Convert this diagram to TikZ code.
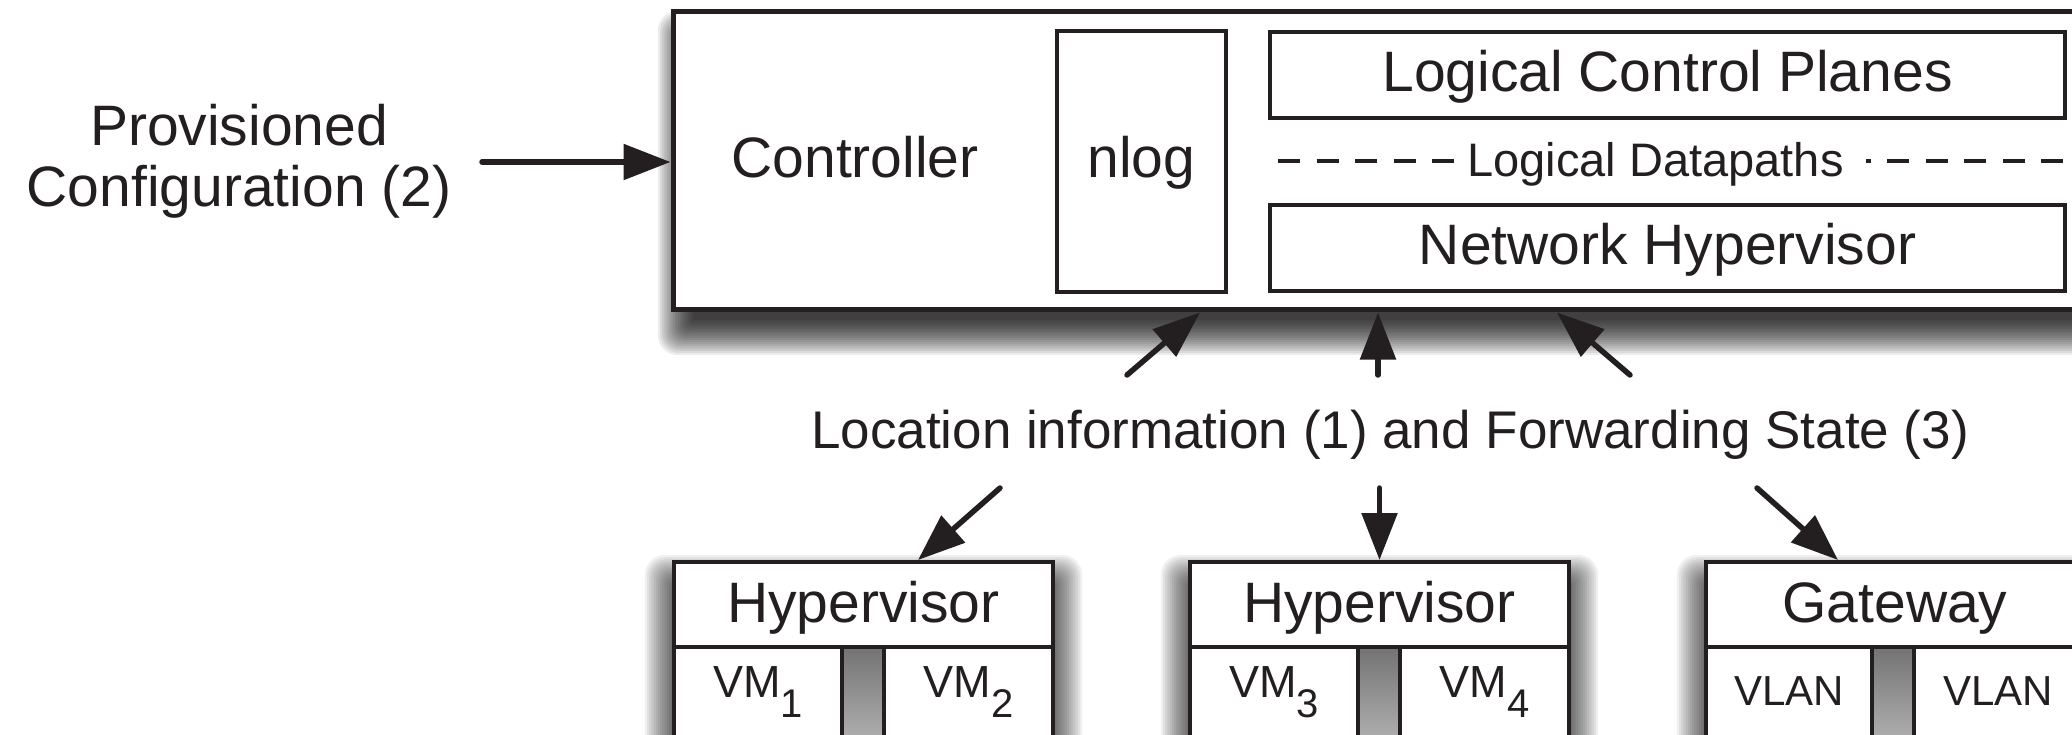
\documentclass[tikz,border=0pt]{standalone}
\usepackage{fontspec}
\setmainfont{Liberation Sans}
\usetikzlibrary{arrows.meta}
\definecolor{ink}{RGB}{35,31,32}
% lowered subscript used in the VM labels
\newcommand\vmsub[1]{\raisebox{-20pt}{\fontsize{40}{40}\selectfont #1}}
% soft cast shadow: corners x1,y1,x2,y2, downward offset, layer opacity, horizontal inset
\newcommand\castshadow[7]{%
  \foreach \k in {0,...,16}{%
    \fill[black, opacity=#6, rounded corners=\k*1.2pt+1pt]
      (#1+#7-\k*2.2, #2+#5+12-\k*2.2) rectangle (#3-#7+\k*2.2, #4+#5-12+\k*2.2);
  }}
\tikzset{
  frame/.style={draw=ink, line width=4pt, fill=white, inner sep=0pt},
  big/.style={font=\fontsize{57}{68}\selectfont, text=ink, inner sep=0pt, anchor=base},
  mid/.style={font=\fontsize{53}{64}\selectfont, text=ink, inner sep=0pt, anchor=base},
  small/.style={font=\fontsize{47}{56}\selectfont, text=ink, inner sep=0pt, anchor=base},
  vmtext/.style={font=\fontsize{45}{54}\selectfont, text=ink, inner sep=0pt, anchor=base},
  vlantext/.style={font=\fontsize{42}{50}\selectfont, text=ink, inner sep=0pt, anchor=base},
  dashline/.style={draw=ink, line width=4pt, dash pattern=on 22pt off 16.5pt},
  gapshade/.style={top color=black!55, middle color=black!24, bottom color=black!30},
  link/.style={draw=ink, line width=5.5pt, line cap=round,
      -{Triangle[length=47pt,width=35pt]}},
}
\begin{document}
\begin{tikzpicture}[x=1pt,y=-1pt]
\useasboundingbox (0,0) rectangle (2072,735);
\clip (0,0) rectangle (2072,735);
\fill[white] (0,0) rectangle (2072,735);

% ---- controller block ----
\castshadow{673}{12}{2110}{310}{22}{0.075}{20}
\node[frame, line width=5pt, minimum width=1437pt, minimum height=298pt]
  (ctrlbox) at (1391.5,161) {};
\node[big] (ctrltext) at (855,178) {Controller};
\node[frame, minimum width=169pt, minimum height=261pt] (nlogbox) at (1141.5,161.5) {};
\node[big] (nlogtext) at (1141.5,178) {nlog};
\node[frame, minimum width=795pt, minimum height=86pt] (lcpbox) at (1667.5,75) {};
\node[big] (lcptext) at (1667.5,92) {Logical Control Planes};
\node[frame, minimum width=795pt, minimum height=86pt] (nhbox) at (1667.5,248) {};
\node[big] (nhtext) at (1667.5,265) {Network Hypervisor};

% dashed divider with its label
\draw[dashline] (1278,161) -- (1466,161);
\draw[dashline] (2063,161) -- (1866,161);
\node[small] (dptext) at (1655.5,177) {Logical Datapaths};

% ---- provisioned configuration input ----
\node[big] (prov1) at (239,146) {Provisioned};
\node[big] (prov2) at (239,207) {Configuration (2)};
\coordinate (provtail) at (482,162);
\draw[link] (provtail) -- (provtail -| ctrlbox.west);

% ---- middle label and its arrows ----
\node[mid] (loc) at (1390,448) {Location information (1) and Forwarding State (3)};
\coordinate (up1) at (1127,375);
\coordinate (up2) at (1378,375);
\coordinate (up3) at (1630,375);
\draw[link] (up1) -- ([xshift=529.5pt]ctrlbox.south west);
\draw[link] (up2) -- (up2 |- ctrlbox.south);
\draw[link] (up3) -- ([xshift=886.5pt]ctrlbox.south west);

% ---- lower hosts ----
% hypervisor 1
\castshadow{674}{562}{1053}{800}{16}{0.06}{6}
\fill[gapshade] (842,647) rectangle (884,745);
\node[frame, minimum width=379pt, minimum height=85pt] (hyp1) at (863.5,604.5) {};
\node[big] (hyp1text) at (863.5,622) {Hypervisor};
\node[frame, minimum width=168pt, minimum height=150pt] (vm1) at (758,722) {};
\node[vmtext] (vm1text) at (758,697) {VM\vmsub{1}};
\node[frame, minimum width=169pt, minimum height=150pt] (vm2) at (968.5,722) {};
\node[vmtext] (vm2text) at (968.5,697) {VM\vmsub{2}};

% hypervisor 2
\castshadow{1190}{562}{1569}{800}{16}{0.06}{6}
\fill[gapshade] (1358,647) rectangle (1400,745);
\node[frame, minimum width=379pt, minimum height=85pt] (hyp2) at (1379.5,604.5) {};
\node[big] (hyp2text) at (1379.5,622) {Hypervisor};
\node[frame, minimum width=168pt, minimum height=150pt] (vm3) at (1274,722) {};
\node[vmtext] (vm3text) at (1274,697) {VM\vmsub{3}};
\node[frame, minimum width=169pt, minimum height=150pt] (vm4) at (1484.5,722) {};
\node[vmtext] (vm4text) at (1484.5,697) {VM\vmsub{4}};

% gateway
\castshadow{1706}{562}{2084}{800}{16}{0.06}{6}
\fill[gapshade] (1872,647) rectangle (1914,745);
\node[frame, minimum width=378pt, minimum height=85pt] (gw) at (1895,604.5) {};
\node[big] (gwtext) at (1895,622) {Gateway};
\node[frame, minimum width=166pt, minimum height=150pt] (vlan1) at (1789,722) {};
\node[vlantext] (vlan1text) at (1789,705) {VLAN};
\node[frame, minimum width=168pt, minimum height=150pt] (vlan2) at (1998,722) {};
\node[vlantext] (vlan2text) at (1998,705) {VLAN};

% arrows down to the hosts
\coordinate (dn1) at (1000,488);
\coordinate (dn2) at (1379.5,488);
\coordinate (dn3) at (1757,488);
\draw[link] (dn1) -- ([xshift=246pt]hyp1.north west);
\draw[link] (dn2) -- (hyp2.north);
\draw[link] (dn3) -- ([xshift=134pt]gw.north west);
\end{tikzpicture}
\end{document}
